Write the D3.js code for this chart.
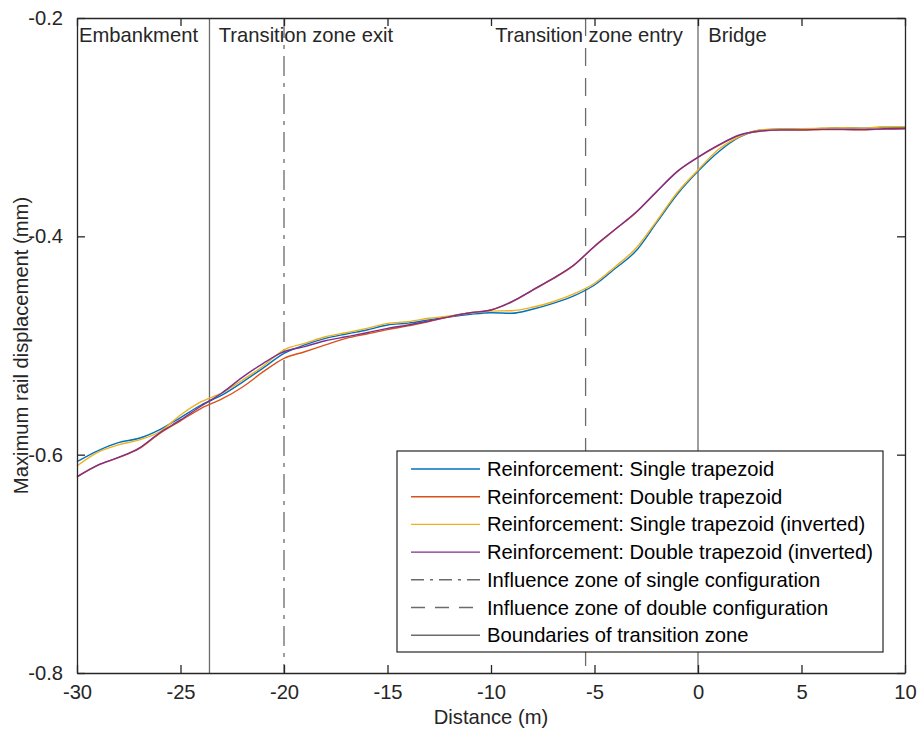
<!DOCTYPE html>
<html>
<head>
<meta charset="utf-8">
<script src="https://cdn.jsdelivr.net/npm/d3@7"></script>
<style>
  html, body { margin: 0; padding: 0; background: #fff; }
  svg { display: block; font-family: "Liberation Sans", Arial, Helvetica, sans-serif; }
</style>
</head>
<body>
<svg id="chart" width="917" height="729"></svg>
<script>
// ---------- data ----------
const distance = [-30,-29,-28,-27,-26,-25,-24,-23,-22,-21,-20,-19,-18,-17,-16,-15,-14,-13,-12,-11,-10,-9,-8,-7,-6,-5,-4,-3,-2,-1,0,1,2,3,4,5,6,7,8,9,10];

const singleTrapezoid = [-0.6064,-0.5965,-0.589,-0.585,-0.577,-0.566,-0.5545,-0.5455,-0.5335,-0.5205,-0.5072,-0.4995,-0.4935,-0.4895,-0.4858,-0.4812,-0.4795,-0.4765,-0.4738,-0.4715,-0.470,-0.4705,-0.4668,-0.4614,-0.4546,-0.4446,-0.4295,-0.4135,-0.3875,-0.3615,-0.3405,-0.3225,-0.3092,-0.3028,-0.3017,-0.3015,-0.3012,-0.3005,-0.301,-0.300,-0.3005];

const doubleTrapezoid = [-0.6205,-0.6098,-0.6028,-0.5945,-0.5805,-0.569,-0.5575,-0.549,-0.538,-0.524,-0.5117,-0.5057,-0.4995,-0.4935,-0.4895,-0.4855,-0.482,-0.478,-0.4738,-0.470,-0.4675,-0.4602,-0.4495,-0.4388,-0.4266,-0.4093,-0.3938,-0.3783,-0.3593,-0.3408,-0.3278,-0.3166,-0.3075,-0.3037,-0.3027,-0.3027,-0.3022,-0.3022,-0.3024,-0.3017,-0.3014];

const singleTrapezoidInv = [-0.6104,-0.598,-0.591,-0.5865,-0.579,-0.5637,-0.5515,-0.5435,-0.5316,-0.5188,-0.504,-0.498,-0.492,-0.4883,-0.4843,-0.4797,-0.4782,-0.4751,-0.473,-0.470,-0.4685,-0.4681,-0.465,-0.4599,-0.4528,-0.443,-0.4278,-0.411,-0.386,-0.3598,-0.3392,-0.3203,-0.3087,-0.3026,-0.3017,-0.3015,-0.301,-0.3005,-0.301,-0.2996,-0.2996];

const doubleTrapezoidInv = [-0.6201,-0.6095,-0.6025,-0.594,-0.5799,-0.5682,-0.5554,-0.5435,-0.529,-0.5163,-0.5057,-0.501,-0.4956,-0.492,-0.4883,-0.4843,-0.4812,-0.4776,-0.4735,-0.470,-0.4675,-0.4599,-0.4492,-0.4385,-0.4263,-0.409,-0.3935,-0.378,-0.359,-0.3405,-0.3275,-0.3163,-0.3072,-0.3035,-0.3025,-0.3025,-0.302,-0.302,-0.3022,-0.3015,-0.3012];

const seriesNames = [
  "Reinforcement: Single trapezoid",
  "Reinforcement: Double trapezoid",
  "Reinforcement: Single trapezoid (inverted)",
  "Reinforcement: Double trapezoid (inverted)"
];
const seriesColors = ["#0072BD", "#D95319", "#EDB120", "#7E2F8E"];

const xTicks = [-30, -25, -20, -15, -10, -5, 0, 5, 10];
const xTickLabels = ["-30", "-25", "-20", "-15", "-10", "-5", "0", "5", "10"];
const yTicks = [-0.8, -0.6, -0.4, -0.2];
const yTickLabels = ["-0.8", "-0.6", "-0.4", "-0.2"];

const singleZone = -20;       // influence zone of single configuration
const doubleZone = -5.43;     // influence zone of double configuration
const boundaries = [-23.6, 0]; // transition zone boundaries

const zoneLabels = ["Embankment", "Transition zone exit", "Transition zone entry", "Bridge"];
const zoneLabelX = [-29.9, -23.15, -9.8, 0.5];

const refLegend = [
  { name: "Influence zone of single configuration", dash: "20,7,4,7" },
  { name: "Influence zone of double configuration", dash: "18,12" },
  { name: "Boundaries of transition zone", dash: null }
];

// ---------- layout ----------
const svg = d3.select("#chart");
const L = 77, R = 905, T = 18, B = 673;
const axisColor = "#262626";
const refColor = "#6b6b6b";
const fs = 20.2;
const fontFam = '"Liberation Sans", Arial, Helvetica, sans-serif';

const x = d3.scaleLinear().domain([-30, 10]).range([L, R]);
const y = d3.scaleLinear().domain([-0.8, -0.2]).range([B, T]);

// reference vertical lines
const refG = svg.append("g").attr("stroke", refColor).attr("stroke-width", 1.3).attr("fill", "none");
boundaries.forEach(b => refG.append("line").attr("x1", x(b)).attr("x2", x(b)).attr("y1", T).attr("y2", B));
refG.append("line").attr("x1", x(singleZone)).attr("x2", x(singleZone)).attr("y1", T).attr("y2", B)
  .attr("stroke-dasharray", refLegend[0].dash);
refG.append("line").attr("x1", x(doubleZone)).attr("x2", x(doubleZone)).attr("y1", T).attr("y2", B)
  .attr("stroke-dasharray", refLegend[1].dash);

// data lines
const allSeries = [singleTrapezoid, doubleTrapezoid, singleTrapezoidInv, doubleTrapezoidInv];
const line = d3.line().x(d => x(d[0])).y(d => y(d[1])).curve(d3.curveMonotoneX);
allSeries.forEach((s, i) => {
  svg.append("path")
    .datum(distance.map((d, j) => [d, s[j]]))
    .attr("fill", "none")
    .attr("stroke", seriesColors[i])
    .attr("stroke-width", 1.4)
    .attr("d", line);
});

// zone labels
svg.append("g").selectAll("text").data(zoneLabels).join("text")
  .attr("x", (d, i) => x(zoneLabelX[i]))
  .attr("y", 42)
  .attr("font-size", fs)
  .attr("fill", axisColor)
  .text(d => d);

// axes (MATLAB style: inward ticks, box)
const tickLen = 8;
const bottomAxis = d3.axisBottom(x).tickValues(xTicks).tickSizeInner(-tickLen).tickSizeOuter(0).tickPadding(12)
  .tickFormat((d, i) => xTickLabels[i]);
const topAxis = d3.axisTop(x).tickValues(xTicks).tickSizeInner(-tickLen).tickSizeOuter(0).tickFormat("");
const leftAxis = d3.axisLeft(y).tickValues(yTicks).tickSizeInner(-tickLen).tickSizeOuter(0).tickPadding(14)
  .tickFormat((d, i) => yTickLabels[i]);
const rightAxis = d3.axisRight(y).tickValues(yTicks).tickSizeInner(-tickLen).tickSizeOuter(0).tickFormat("");

function styleAxis(g) {
  g.selectAll("path").attr("stroke", axisColor).attr("stroke-width", 1.3);
  g.selectAll("line").attr("stroke", axisColor).attr("stroke-width", 1.3);
  g.selectAll("text").attr("fill", axisColor).attr("font-size", fs).attr("font-family", fontFam);
}
svg.append("g").attr("transform", `translate(0,${B})`).call(bottomAxis).call(styleAxis);
svg.append("g").attr("transform", `translate(0,${T})`).call(topAxis).call(styleAxis);
svg.append("g").attr("transform", `translate(${L},0)`).call(leftAxis).call(styleAxis);
svg.append("g").attr("transform", `translate(${R},0)`).call(rightAxis).call(styleAxis);

// axis titles
svg.append("text")
  .attr("x", (L + R) / 2).attr("y", 724)
  .attr("text-anchor", "middle").attr("font-size", fs).attr("fill", axisColor)
  .text("Distance (m)");
svg.append("text")
  .attr("transform", `translate(28,${(T + B) / 2}) rotate(-90)`)
  .attr("text-anchor", "middle").attr("font-size", fs).attr("fill", axisColor)
  .text("Maximum rail displacement (mm)");

// legend
const lg = svg.append("g");
const lx = 397, ly = 451, lw = 486, lh = 201;
lg.append("rect").attr("x", lx).attr("y", ly).attr("width", lw).attr("height", lh)
  .attr("fill", "#fff").attr("stroke", axisColor).attr("stroke-width", 1.2);
const legendItems = seriesNames.map((n, i) => ({ name: n, color: seriesColors[i], dash: null }))
  .concat(refLegend.map(r => ({ name: r.name, color: refColor, dash: r.dash })));
const rowStep = 27.7, row0 = 469;
legendItems.forEach((it, i) => {
  const cy = row0 + i * rowStep;
  const ln = lg.append("line").attr("x1", 411).attr("x2", 480).attr("y1", cy).attr("y2", cy)
    .attr("stroke", it.color).attr("stroke-width", 1.4);
  if (it.dash) ln.attr("stroke-dasharray", it.dash === "20,7,4,7" ? "13,6,3,6" : "14,10");
  lg.append("text").attr("x", 487).attr("y", cy).attr("dy", "0.35em")
    .attr("font-size", fs).attr("fill", "#000").text(it.name);
});
</script>
</body>
</html>
